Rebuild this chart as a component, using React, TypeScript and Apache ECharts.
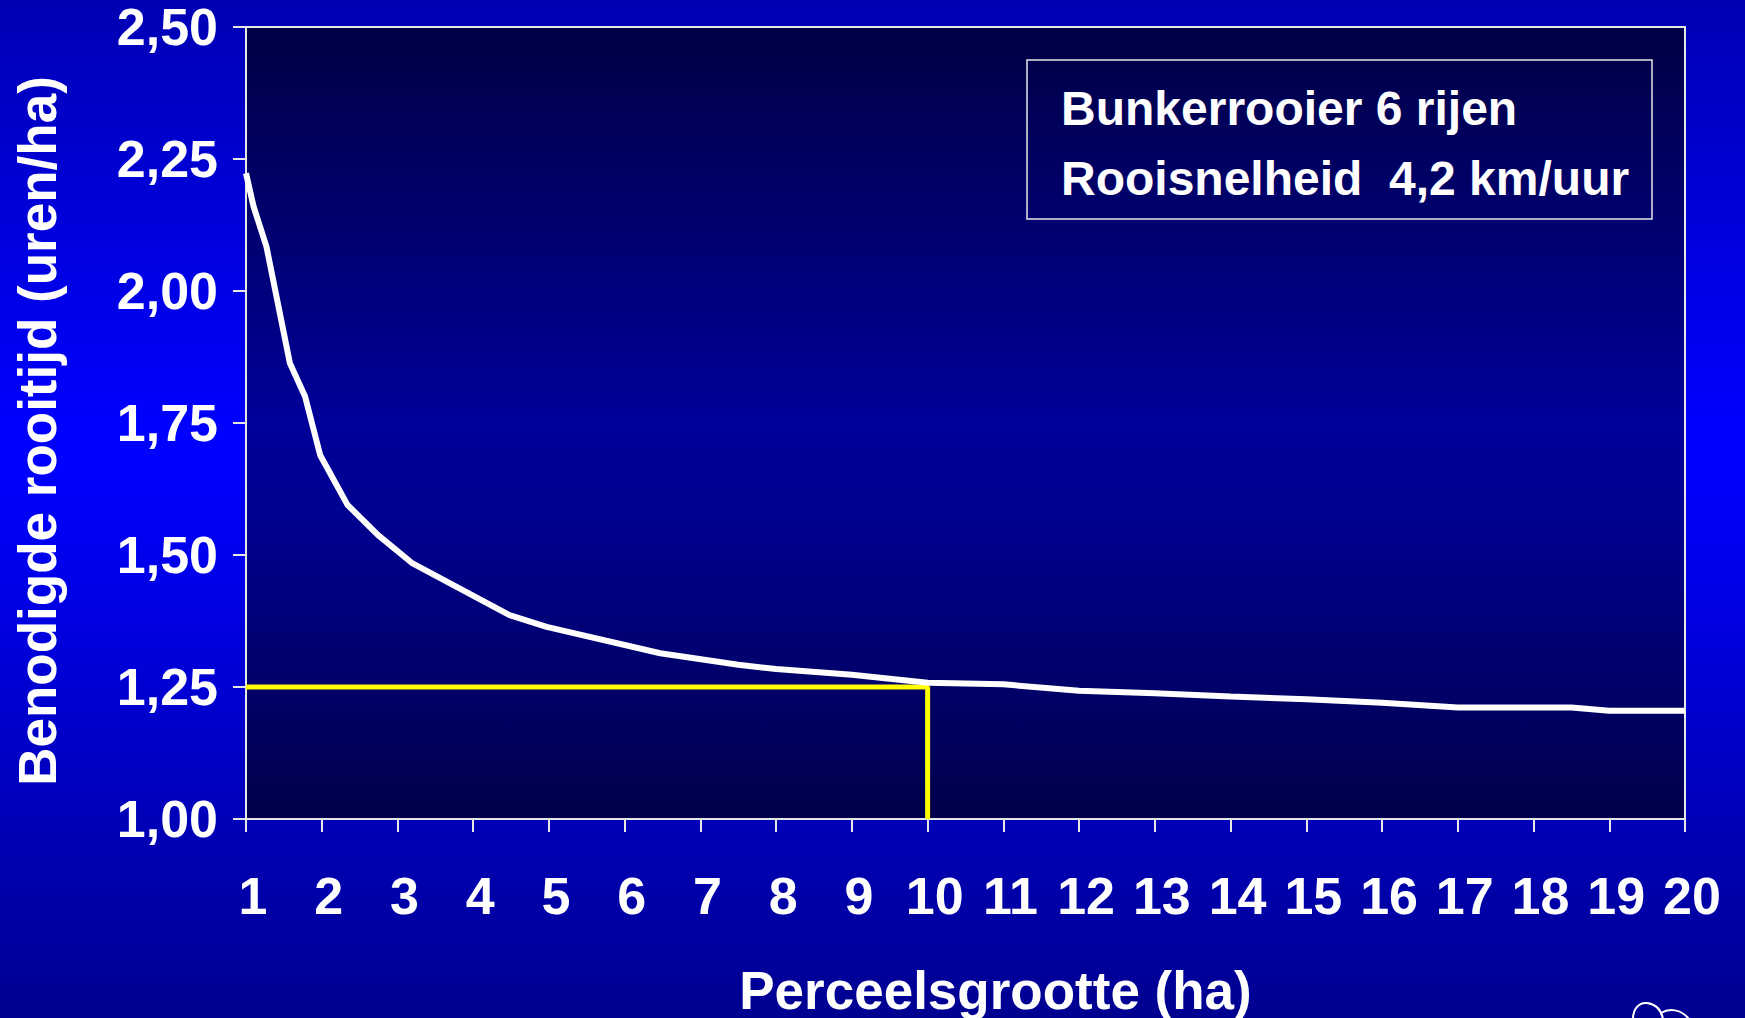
import React, { useEffect, useRef } from "react";
import * as echarts from "echarts";

// Perceelsgrootte (ha) and benodigde rooitijd (uren/ha)
const curveX = [1, 1.1, 1.27, 1.58, 1.78, 1.98, 2.34, 2.74, 3.2, 4.48, 4.97, 6.47, 7.5, 8, 9, 10, 11, 12, 13, 14, 15, 16, 17, 18, 18.5, 19, 20];
const curveY = [2.223, 2.16, 2.084, 1.863, 1.8, 1.689, 1.595, 1.538, 1.484, 1.386, 1.364, 1.314, 1.292, 1.284, 1.273, 1.258, 1.255, 1.243, 1.238, 1.232, 1.227, 1.22, 1.211, 1.211, 1.211, 1.205, 1.205];

// Yellow reference line: 10 ha -> 1,25 uren/ha
const refX = [1, 10, 10];
const refY = [1.25, 1.25, 1.0];

const yTicks = { min: 1, max: 2.5, step: 0.25 };
const xTicks = { min: 1, max: 20, step: 1 };

const xTitle = "Perceelsgrootte (ha)";
const yTitle = "Benodigde rooitijd (uren/ha)";
const boxLines = ["Bunkerrooier 6 rijen", "Rooisnelheid  4,2 km/uur"];

const FONT = "'Liberation Sans', Arial, Helvetica, sans-serif";

export default function App() {
  const ref = useRef<HTMLDivElement>(null);

  useEffect(() => {
    if (!ref.current) return;
    echarts.graphic.registerShape(
      "logo",
      echarts.graphic.extendPath(
        "M 0 18 C 0 8 6 1 14 2 C 22 3 28 8 30 18 M 28 12 C 36 7 48 8 56 18",
        {}
      )
    );
    const chart = echarts.init(ref.current, undefined, { renderer: "svg" });

    const curve = curveX.map((x, i) => [x, curveY[i]]);
    const refLine = refX.map((x, i) => [x, refY[i]]);

    chart.setOption({
      animation: false,
      backgroundColor: "transparent",
      grid: {
        left: 246,
        top: 27,
        right: 60,
        bottom: 199,
        outerBoundsMode: "none",
        containLabel: false,
        show: true,
        borderColor: "#e6e6e6",
        borderWidth: 2,
        backgroundColor: {
          type: "linear",
          x: 0,
          y: 0,
          x2: 0,
          y2: 1,
          colorStops: [
            { offset: 0, color: "#000045" },
            { offset: 0.5, color: "#00009a" },
            { offset: 0.62, color: "#000090" },
            { offset: 1, color: "#00004a" },
          ],
        },
      },
      xAxis: {
        type: "value",
        min: xTicks.min,
        max: xTicks.max,
        interval: xTicks.step,
        name: xTitle,
        nameLocation: "middle",
        nameGap: 148,
        nameTextStyle: {
          color: "#ffffff",
          fontFamily: FONT,
          fontWeight: "bold",
          fontSize: 53,
          lineHeight: 46,
          padding: [0, 0, 0, 60],
        },
        axisLine: { show: true, lineStyle: { color: "#e6e6e6", width: 2 } },
        axisTick: { show: true, length: 13, lineStyle: { color: "#e6e6e6", width: 2 } },
        splitLine: { show: false },
        axisLabel: {
          color: "#ffffff",
          fontFamily: FONT,
          fontWeight: "bold",
          fontSize: 52,
          margin: 51,
          padding: [0, 0, 0, 14],
          formatter: (v: number) => String(v),
        },
      },
      yAxis: {
        type: "value",
        min: yTicks.min,
        max: yTicks.max,
        interval: yTicks.step,
        name: yTitle,
        nameLocation: "middle",
        nameGap: 182,
        nameTextStyle: {
          color: "#ffffff",
          fontFamily: FONT,
          fontWeight: "bold",
          fontSize: 53,
          padding: [0, 16, 0, 0],
        },
        axisLine: { show: true, lineStyle: { color: "#e6e6e6", width: 2 } },
        axisTick: { show: true, length: 13, lineStyle: { color: "#e6e6e6", width: 2 } },
        splitLine: { show: false },
        axisLabel: {
          color: "#ffffff",
          fontFamily: FONT,
          fontWeight: "bold",
          fontSize: 52,
          lineHeight: 40,
          margin: 28,
          formatter: (v: number) => v.toFixed(2).replace(".", ","),
        },
      },
      series: [
        {
          type: "line",
          data: refLine,
          symbol: "none",
          lineStyle: { color: "#ffff00", width: 5 },
          z: 2,
        },
        {
          type: "line",
          data: curve,
          symbol: "none",
          lineStyle: { color: "#ffffff", width: 6 },
          z: 3,
        },
      ],
      graphic: [
        {
          type: "rect",
          shape: { x: 1027, y: 60, width: 625, height: 159 },
          style: { fill: "transparent", stroke: "#e6e6e6", lineWidth: 1.5 },
          z: 10,
        },
        {
          type: "text",
          x: 1061,
          y: 108,
          style: {
            text: boxLines[0],
            fill: "#ffffff",
            font: `bold 48px ${FONT}`,
            verticalAlign: "middle",
            align: "left",
          },
          z: 10,
        },
        {
          type: "text",
          x: 1061,
          y: 178,
          style: {
            text: boxLines[1],
            fill: "#ffffff",
            font: `bold 48px ${FONT}`,
            verticalAlign: "middle",
            align: "left",
          },
          z: 10,
        },
        {
          type: "logo",
          x: 1633,
          y: 1001,
          style: { fill: "none", stroke: "#ffffff", lineWidth: 2 },
          z: 10,
        },
      ],
    });

    return () => {
      chart.dispose();
    };
  }, []);

  return (
    <div
      ref={ref}
      style={{
        position: "absolute",
        left: 0,
        top: 0,
        width: 1745,
        height: 1018,
        background:
          "linear-gradient(to bottom, #0000b4 0%, #0000ff 42%, #0000ff 46%, #000090 100%)",
      }}
    />
  );
}
